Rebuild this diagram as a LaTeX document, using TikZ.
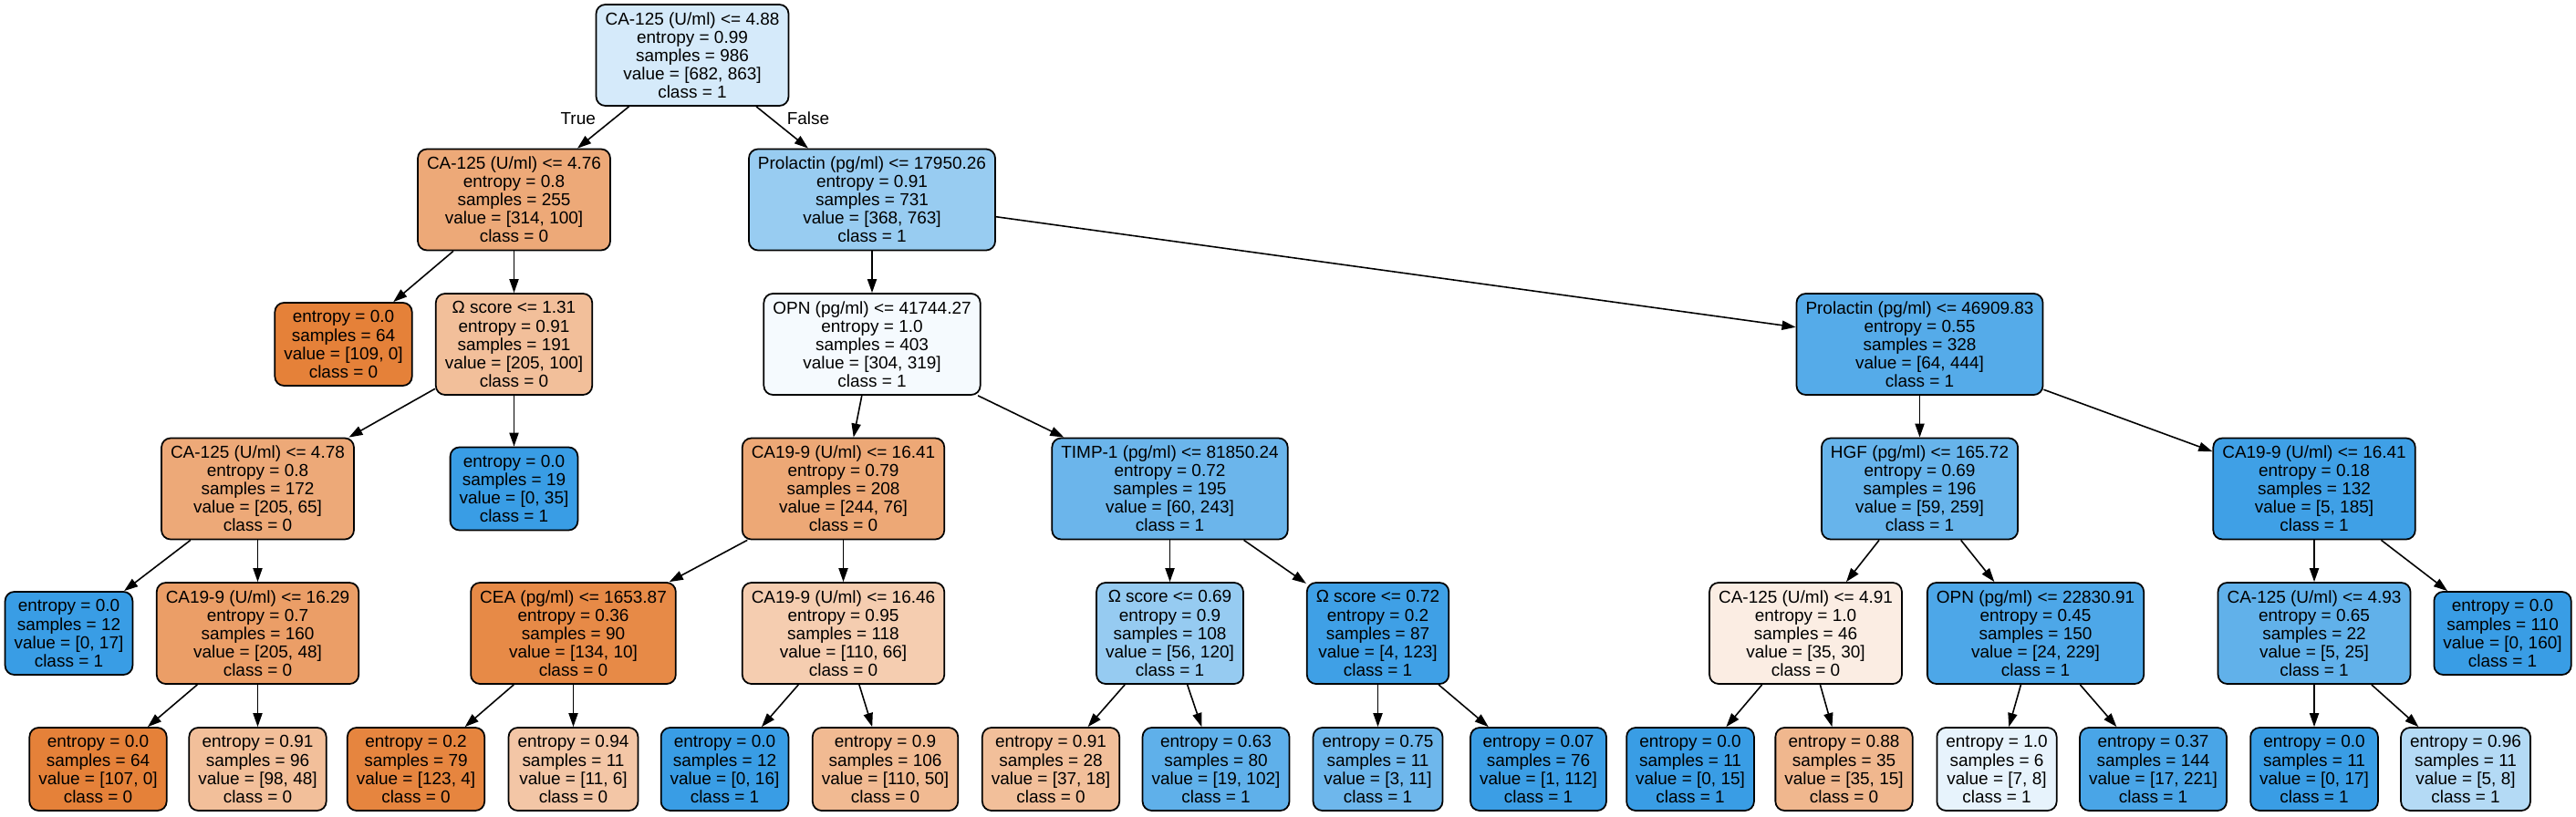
\documentclass[tikz,border=0pt]{standalone}
\usepackage{fontspec}
\setmainfont{Liberation Sans}
\usetikzlibrary{arrows.meta}
\definecolor{zero}{RGB}{229,129,57}
\definecolor{one}{RGB}{57,157,229}
\tikzstyle{split} = [rectangle, rounded corners=0.1cm, minimum height=1.11cm, inner xsep=0.1cm, inner ysep=0pt, align=center, draw=black, line width=0.5pt, font=\fontsize{5.4}{5.7}\selectfont]
\tikzstyle{leaf} = [split, minimum height=0.91cm]
\tikzstyle{arrow} = [line width=0.45pt, -{Triangle[length=4.3pt, width=2.9pt]}]
\tikzstyle{edgelabel} = [font=\fontsize{5.4}{5.7}\selectfont, inner sep=0pt]

\begin{document}
\begin{tikzpicture}[node distance=1.585cm]
\useasboundingbox (0,0) rectangle (28.24,-8.95);

\node (root) [split, fill=one!21] at (7.59,-0.605) {CA-125 (U/ml) <= 4.88\\entropy = 0.99\\samples = 986\\value = [682, 863]\\class = 1};

\node (ca2) [split, fill=zero!68, below of=root, xshift=-1.955cm] {CA-125 (U/ml) <= 4.76\\entropy = 0.8\\samples = 255\\value = [314, 100]\\class = 0};
\node (pro1) [split, fill=one!52, below of=root, xshift=1.97cm] {Prolactin (pg/ml) <= 17950.26\\entropy = 0.91\\samples = 731\\value = [368, 763]\\class = 1};

\node (lf1) [leaf, fill=zero, below of=ca2, xshift=-1.87cm] {entropy = 0.0\\samples = 64\\value = [109, 0]\\class = 0};
\node (om1) [split, fill=zero!51, below of=ca2] {Ω score <= 1.31\\entropy = 0.91\\samples = 191\\value = [205, 100]\\class = 0};
\node (opn1) [split, fill=one!5, below of=pro1] {OPN (pg/ml) <= 41744.27\\entropy = 1.0\\samples = 403\\value = [304, 319]\\class = 1};
\node (pro2) [split, fill=one!86, below of=pro1, xshift=11.485cm] {Prolactin (pg/ml) <= 46909.83\\entropy = 0.55\\samples = 328\\value = [64, 444]\\class = 1};

\node (ca3) [split, fill=zero!68, below of=om1, xshift=-2.81cm] {CA-125 (U/ml) <= 4.78\\entropy = 0.8\\samples = 172\\value = [205, 65]\\class = 0};
\node (lf2) [leaf, fill=one, below of=om1] {entropy = 0.0\\samples = 19\\value = [0, 35]\\class = 1};
\node (cas1) [split, fill=zero!69, below of=opn1, xshift=-0.315cm] {CA19-9 (U/ml) <= 16.41\\entropy = 0.79\\samples = 208\\value = [244, 76]\\class = 0};
\node (timp) [split, fill=one!75, below of=opn1, xshift=3.265cm] {TIMP-1 (pg/ml) <= 81850.24\\entropy = 0.72\\samples = 195\\value = [60, 243]\\class = 1};
\node (hgf) [split, fill=one!77, below of=pro2] {HGF (pg/ml) <= 165.72\\entropy = 0.69\\samples = 196\\value = [59, 259]\\class = 1};
\node (cas2) [split, fill=one!97, below of=pro2, xshift=4.325cm] {CA19-9 (U/ml) <= 16.41\\entropy = 0.18\\samples = 132\\value = [5, 185]\\class = 1};

\node (lf3) [leaf, fill=one, below of=ca3, xshift=-2.07cm] {entropy = 0.0\\samples = 12\\value = [0, 17]\\class = 1};
\node (cas3) [split, fill=zero!77, below of=ca3] {CA19-9 (U/ml) <= 16.29\\entropy = 0.7\\samples = 160\\value = [205, 48]\\class = 0};
\node (cea) [split, fill=zero!93, below of=cas1, xshift=-2.96cm] {CEA (pg/ml) <= 1653.87\\entropy = 0.36\\samples = 90\\value = [134, 10]\\class = 0};
\node (cas4) [split, fill=zero!40, below of=cas1] {CA19-9 (U/ml) <= 16.46\\entropy = 0.95\\samples = 118\\value = [110, 66]\\class = 0};
\node (om2) [split, fill=one!53, below of=timp] {Ω score <= 0.69\\entropy = 0.9\\samples = 108\\value = [56, 120]\\class = 1};
\node (om3) [split, fill=one!97, below of=timp, xshift=2.28cm] {Ω score <= 0.72\\entropy = 0.2\\samples = 87\\value = [4, 123]\\class = 1};
\node (ca4) [split, fill=zero!14, below of=hgf, xshift=-1.25cm] {CA-125 (U/ml) <= 4.91\\entropy = 1.0\\samples = 46\\value = [35, 30]\\class = 0};
\node (opn2) [split, fill=one!90, below of=hgf, xshift=1.27cm] {OPN (pg/ml) <= 22830.91\\entropy = 0.45\\samples = 150\\value = [24, 229]\\class = 1};
\node (ca5) [split, fill=one!80, below of=cas2] {CA-125 (U/ml) <= 4.93\\entropy = 0.65\\samples = 22\\value = [5, 25]\\class = 1};
\node (lf4) [leaf, fill=one, below of=cas2, xshift=2.065cm] {entropy = 0.0\\samples = 110\\value = [0, 160]\\class = 1};

% last row sits a bit higher (only short leaves there)
\node (lf5) [leaf, fill=zero, below of=cas3, xshift=-1.75cm, yshift=0.095cm] {entropy = 0.0\\samples = 64\\value = [107, 0]\\class = 0};
\node (lf6) [leaf, fill=zero!51, below of=cas3, yshift=0.095cm] {entropy = 0.91\\samples = 96\\value = [98, 48]\\class = 0};
\node (lf7) [leaf, fill=zero!97, below of=cea, xshift=-1.725cm, yshift=0.095cm] {entropy = 0.2\\samples = 79\\value = [123, 4]\\class = 0};
\node (lf8) [leaf, fill=zero!45, below of=cea, yshift=0.095cm] {entropy = 0.94\\samples = 11\\value = [11, 6]\\class = 0};
\node (lf9) [leaf, fill=one, below of=cas4, xshift=-1.3cm, yshift=0.095cm] {entropy = 0.0\\samples = 12\\value = [0, 16]\\class = 1};
\node (lf10) [leaf, fill=zero!55, below of=cas4, xshift=0.46cm, yshift=0.095cm] {entropy = 0.9\\samples = 106\\value = [110, 50]\\class = 0};
\node (lf11) [leaf, fill=zero!51, below of=om2, xshift=-1.305cm, yshift=0.095cm] {entropy = 0.91\\samples = 28\\value = [37, 18]\\class = 0};
\node (lf12) [leaf, fill=one!81, below of=om2, xshift=0.505cm, yshift=0.095cm] {entropy = 0.63\\samples = 80\\value = [19, 102]\\class = 1};
\node (lf13) [leaf, fill=one!73, below of=om3, yshift=0.095cm] {entropy = 0.75\\samples = 11\\value = [3, 11]\\class = 1};
\node (lf14) [leaf, fill=one!99, below of=om3, xshift=1.76cm, yshift=0.095cm] {entropy = 0.07\\samples = 76\\value = [1, 112]\\class = 1};
\node (lf15) [leaf, fill=one, below of=ca4, xshift=-1.265cm, yshift=0.095cm] {entropy = 0.0\\samples = 11\\value = [0, 15]\\class = 1};
\node (lf16) [leaf, fill=zero!57, below of=ca4, xshift=0.42cm, yshift=0.095cm] {entropy = 0.88\\samples = 35\\value = [35, 15]\\class = 0};
\node (lf17) [leaf, fill=one!12, below of=opn2, xshift=-0.425cm, yshift=0.095cm] {entropy = 1.0\\samples = 6\\value = [7, 8]\\class = 1};
\node (lf18) [leaf, fill=one!92, below of=opn2, xshift=1.29cm, yshift=0.095cm] {entropy = 0.37\\samples = 144\\value = [17, 221]\\class = 1};
\node (lf19) [leaf, fill=one, below of=ca5, yshift=0.095cm] {entropy = 0.0\\samples = 11\\value = [0, 17]\\class = 1};
\node (lf20) [leaf, fill=one!38, below of=ca5, xshift=1.66cm, yshift=0.095cm] {entropy = 0.96\\samples = 11\\value = [5, 8]\\class = 1};

\draw [arrow] (root) -- node[edgelabel, pos=0.28, anchor=east, xshift=-0.2cm] {True} (ca2);
\draw [arrow] (root) -- node[edgelabel, pos=0.28, anchor=west, xshift=0.17cm] {False} (pro1);
\draw [arrow] (ca2) -- (lf1);
\draw [arrow] (ca2) -- (om1);
\draw [arrow] (pro1) -- (opn1);
\draw [arrow] (pro1) -- (pro2);
\draw [arrow] (om1) -- (ca3);
\draw [arrow] (om1) -- (lf2);
\draw [arrow] (opn1) -- (cas1);
\draw [arrow] (opn1) -- (timp);
\draw [arrow] (pro2) -- (hgf);
\draw [arrow] (pro2) -- (cas2);
\draw [arrow] (ca3) -- (lf3);
\draw [arrow] (ca3) -- (cas3);
\draw [arrow] (cas1) -- (cea);
\draw [arrow] (cas1) -- (cas4);
\draw [arrow] (timp) -- (om2);
\draw [arrow] (timp) -- (om3);
\draw [arrow] (hgf) -- (ca4);
\draw [arrow] (hgf) -- (opn2);
\draw [arrow] (cas2) -- (ca5);
\draw [arrow] (cas2) -- (lf4);
\draw [arrow] (cas3) -- (lf5);
\draw [arrow] (cas3) -- (lf6);
\draw [arrow] (cea) -- (lf7);
\draw [arrow] (cea) -- (lf8);
\draw [arrow] (cas4) -- (lf9);
\draw [arrow] (cas4) -- (lf10);
\draw [arrow] (om2) -- (lf11);
\draw [arrow] (om2) -- (lf12);
\draw [arrow] (om3) -- (lf13);
\draw [arrow] (om3) -- (lf14);
\draw [arrow] (ca4) -- (lf15);
\draw [arrow] (ca4) -- (lf16);
\draw [arrow] (opn2) -- (lf17);
\draw [arrow] (opn2) -- (lf18);
\draw [arrow] (ca5) -- (lf19);
\draw [arrow] (ca5) -- (lf20);

\end{tikzpicture}
\end{document}
